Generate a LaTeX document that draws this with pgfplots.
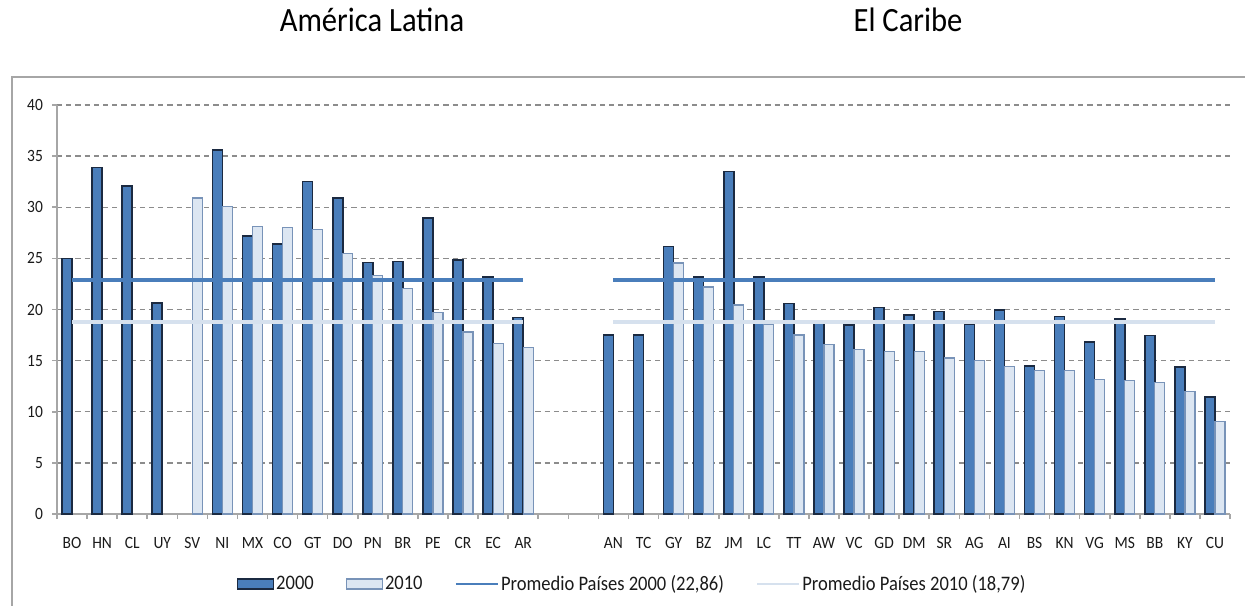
\documentclass[border=0pt]{standalone}
\usepackage{fontspec}
\setmainfont{Carlito}[FakeStretch=0.9]
\usepackage{pgfplots}
\pgfplotsset{compat=1.18}
\definecolor{bdark}{HTML}{4A7EBB}
\definecolor{bedge}{HTML}{1B2A41}
\definecolor{blight}{HTML}{DCE6F2}
\definecolor{bledge}{HTML}{7893B8}
\definecolor{avgone}{HTML}{4A7EBB}
\definecolor{avgtwo}{HTML}{D6E1EE}
\definecolor{gridc}{HTML}{8C8C8C}
\definecolor{axc}{HTML}{A6A6A6}
\definecolor{txt}{HTML}{1A1A1A}
\pgfplotsset{
  barleg/.style={legend image code/.code={\draw[##1] (0pt,-2.5pt) rectangle (18pt,2.5pt);}},
  lineleg/.style={legend image code/.code={\draw[##1, line width=1.2pt] (0pt,0pt) -- (21pt,0pt);}},
}
\begin{document}
\begin{tikzpicture}
\useasboundingbox (0,0) rectangle (622.5pt,302.5pt);
\draw[axc, line width=1pt] (5.85pt,-2pt) -- (5.85pt,264pt) -- (625pt,264pt);
\node[anchor=base, font=\fontsize{17}{20}\selectfont, text=black, inner sep=0pt] at (186pt,286.6pt) {América Latina};
\node[anchor=base, font=\fontsize{17}{20}\selectfont, text=black, inner sep=0pt] at (454pt,286.6pt) {El Caribe};
\begin{axis}[
  at={(28.5pt,45.5pt)}, anchor=south west,
  scale only axis, width=586.5pt, height=204.5pt,
  xmin=-0.5, xmax=38.5, ymin=0, ymax=40,
  axis lines=left, axis line style={-, axc, line width=0.9pt},
  tick style={axc, line width=0.8pt},
  tick align=outside, major tick length=2.5pt,
  ytick={0,5,...,40},
  ymajorgrids, grid style={gridc, dash pattern=on 2.6pt off 2pt, line width=0.7pt},
  xtick={-0.5,0.5,...,38.5}, xticklabels={},
  extra x ticks={0,...,38},
  extra x tick labels={BO,HN,CL,UY,SV,NI,MX,CO,GT,DO,PN,BR,PE,CR,EC,AR,{},{},AN,TC,GY,BZ,JM,LC,TT,AW,VC,GD,DM,SR,AG,AI,BS,KN,VG,MS,BB,KY,CU},
  extra x tick style={major tick length=0pt, grid=none},
  tick label style={font=\fontsize{8.6}{10}\selectfont, text=txt},
  xticklabel style={yshift=-8pt},
  yticklabel style={xshift=-1pt},
  /pgf/number format/assume math mode=true,
  unbounded coords=jump,
  legend columns=4,
  legend style={at={(0.4902,-0.1711)}, anchor=center, draw=none, fill=none,
    font=\fontsize{10.3}{12}\selectfont, text=txt,
    nodes={inner sep=1pt},
    /tikz/every even column/.append style={column sep=15pt}},
]
\addplot[ybar, bar width=5pt, bar shift=-2.5pt, fill=bdark, draw=bedge, line width=0.8pt, barleg]
coordinates {
(0,25.0) (1,33.9) (2,32.05) (3,20.65) (5,35.6) (6,27.2) (7,26.4) (8,32.5)
(9,30.9) (10,24.6) (11,24.7) (12,28.95) (13,24.85) (14,23.15) (15,19.2)
(18,17.5) (19,17.5) (20,26.15) (21,23.2) (22,33.5) (23,23.2) (24,20.6)
(25,18.9) (26,18.5) (27,20.2) (28,19.45) (29,19.8) (30,18.6) (31,19.95)
(32,14.5) (33,19.3) (34,16.8) (35,19.05) (36,17.45) (37,14.4) (38,11.45)
};
\addlegendentry{2000}
\addplot[ybar, bar width=5pt, bar shift=2.5pt, fill=blight, draw=bledge, line width=0.6pt, barleg]
coordinates {
(4,30.9) (5,30.1) (6,28.1) (7,28.0) (8,27.85) (9,25.5) (10,23.3) (11,22.05)
(12,19.7) (13,17.8) (14,16.7) (15,16.3)
(20,24.55) (21,22.2) (22,20.45) (23,18.5) (24,17.5) (25,16.6) (26,16.1)
(27,15.9) (28,15.9) (29,15.25) (30,15.0) (31,14.45) (32,14.0) (33,14.0)
(34,13.15) (35,13.05) (36,12.85) (37,12.0) (38,9.05)
};
\addlegendentry{2010}
\addplot[sharp plot, mark=none, draw=avgone, line width=2pt, lineleg]
coordinates {(0,22.86) (15,22.86) (16,nan) (18,22.86) (38,22.86)};
\addlegendentry{Promedio Países 2000 (22,86)}
\addplot[sharp plot, mark=none, draw=avgtwo, line width=2pt, lineleg]
coordinates {(0,18.79) (15,18.79) (16,nan) (18,18.79) (38,18.79)};
\addlegendentry{Promedio Países 2010 (18,79)}
\end{axis}
\end{tikzpicture}
\end{document}
